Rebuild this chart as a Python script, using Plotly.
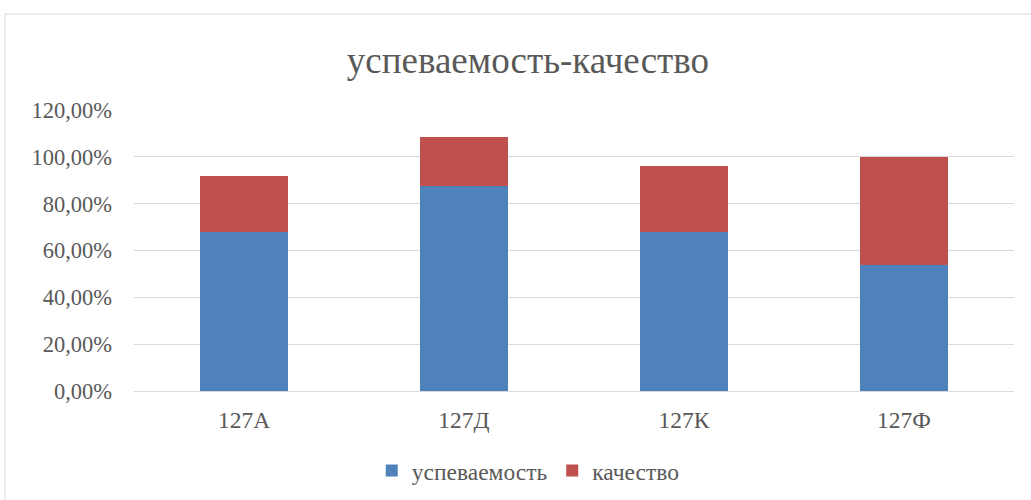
import plotly.graph_objects as go

categories = ["127А", "127Д", "127К", "127Ф"]
uspevaemost = [0.68, 0.875, 0.68, 0.54]
kachestvo = [0.24, 0.208, 0.28, 0.46]
y_ticks = [0, 0.2, 0.4, 0.6, 0.8, 1.0, 1.2]

font_family = "Liberation Serif, Times New Roman, serif"
txt = "#595959"

fig = go.Figure()
fig.add_trace(go.Bar(x=categories, y=uspevaemost, name="успеваемость",
                     marker=dict(color="#4f81bd", line=dict(width=0))))
fig.add_trace(go.Bar(x=categories, y=kachestvo, name="качество",
                     marker=dict(color="#c0504d", line=dict(width=0))))

fig.update_layout(
    barmode="stack",
    bargap=0.6,
    width=1031, height=500,
    margin=dict(l=134, r=17, t=110, b=109, autoexpand=False),
    paper_bgcolor="white", plot_bgcolor="white",
    separators=", ",
    font=dict(family=font_family, color=txt, size=22),
    title=dict(text="успеваемость-качество", x=0.512, xanchor="center",
               y=0.88, yanchor="middle",
               font=dict(family=font_family, size=37, color=txt)),
    showlegend=True,
    legend=dict(orientation="h", x=0.448, xanchor="center", y=-0.284, yanchor="middle",
                itemwidth=30,
                font=dict(family=font_family, size=23.5, color=txt), traceorder="normal"),
    xaxis=dict(showgrid=False, showline=True, linecolor="#d9d9d9", linewidth=1,
               ticks="", ticklabelstandoff=8, automargin=False,
               tickfont=dict(family=font_family, size=23.5, color=txt)),
    yaxis=dict(range=[0, 1.2], tickvals=y_ticks, tickformat=".2%",
               showgrid=True, gridcolor="#d9d9d9", gridwidth=1, zeroline=False,
               showline=False, ticks="", ticklabelstandoff=21, automargin=False,
               tickfont=dict(family=font_family, size=22.5, color=txt)),
    shapes=[dict(type="rect", xref="paper", yref="paper",
                 x0=(5 - 134) / 880, x1=2, y0=(391 - 14) / 281, y1=-1,
                 line=dict(color="#d9d9d9", width=1), fillcolor="rgba(0,0,0,0)",
                 layer="below")],
)

fig.write_html("out.html", config={"displayModeBar": False},
               post_script="document.body.style.margin='0';")
